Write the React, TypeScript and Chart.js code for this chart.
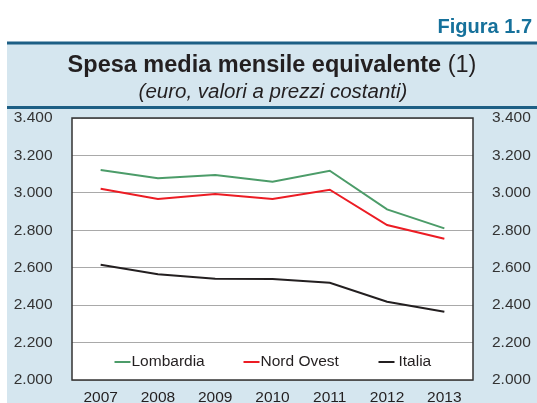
import React, { useEffect, useRef } from "react";
import { Chart, registerables } from "chart.js";

Chart.register(...registerables);

const years = ["2007", "2008", "2009", "2010", "2011", "2012", "2013"];
const lombardia = [3122, 3078, 3095, 3060, 3118, 2912, 2810];
const nordOvest = [3022, 2967, 2994, 2967, 3017, 2828, 2755];
const italia = [2616, 2565, 2541, 2540, 2520, 2418, 2365];
const seriesNames = ["Lombardia", "Nord Ovest", "Italia"];
const seriesColors = ["#4c9c69", "#ec1c24", "#231f20"];
const yMin = 2000;
const yMax = 3400;
const yStep = 200;

const FONT = "'Liberation Sans', Arial, sans-serif";

function fmt(v: number): string {
  const th = Math.floor(v / 1000);
  const rest = String(Math.round(v % 1000)).padStart(3, "0");
  return th + "." + rest;
}

const decorPlugin = {
  id: "decor",
  beforeDraw(chart: any) {
    const ctx = chart.ctx;
    const W = chart.width;
    const H = chart.height;
    const ca = chart.chartArea;
    ctx.save();
    ctx.fillStyle = "#ffffff";
    ctx.fillRect(0, 0, W, H);
    ctx.fillStyle = "#d5e6ef";
    ctx.fillRect(7, 44, W - 7, H - 44);
    ctx.fillStyle = "#1d5f85";
    ctx.fillRect(7, 41.5, W - 7, 3);
    ctx.fillRect(7, 106, W - 7, 3);
    // Figura label
    ctx.fillStyle = "#16719b";
    ctx.font = "bold 20px " + FONT;
    ctx.textAlign = "right";
    ctx.textBaseline = "alphabetic";
    ctx.fillText("Figura 1.7", 532, 33);
    // Title
    const boldPart = "Spesa media mensile equivalente ";
    const normPart = "(1)";
    ctx.font = "bold 23.5px " + FONT;
    const bw = ctx.measureText(boldPart).width;
    ctx.font = "23.5px " + FONT;
    const nw = ctx.measureText(normPart).width;
    const cx = 272;
    const x0 = cx - (bw + nw) / 2;
    ctx.textAlign = "left";
    ctx.fillStyle = "#231f20";
    ctx.font = "bold 23.5px " + FONT;
    ctx.fillText(boldPart, x0, 71.5);
    ctx.font = "23.5px " + FONT;
    ctx.fillText(normPart, x0 + bw, 71.5);
    ctx.font = "italic 20.5px " + FONT;
    ctx.textAlign = "center";
    ctx.fillText("(euro, valori a prezzi costanti)", 273, 98);
    // plot background
    ctx.fillStyle = "#ffffff";
    ctx.fillRect(ca.left, ca.top, ca.right - ca.left, ca.bottom - ca.top);
    ctx.restore();
  },
  afterDraw(chart: any) {
    const ctx = chart.ctx;
    const ca = chart.chartArea;
    ctx.save();
    ctx.strokeStyle = "#333333";
    ctx.lineWidth = 1.5;
    ctx.strokeRect(ca.left, ca.top, ca.right - ca.left, ca.bottom - ca.top);
    // legend inside plot
    const offsets = [42.5, 171.5, 306.5];
    const gaps = [1, 1, 4];
    const ly = ca.bottom - 18;
    ctx.font = "15.5px " + FONT;
    ctx.textBaseline = "middle";
    ctx.textAlign = "left";
    chart.data.datasets.forEach((ds: any, i: number) => {
      const x = ca.left + offsets[i];
      ctx.strokeStyle = ds.borderColor;
      ctx.lineWidth = 2;
      ctx.beginPath();
      ctx.moveTo(x, ly);
      ctx.lineTo(x + 16, ly);
      ctx.stroke();
      ctx.fillStyle = "#231f20";
      ctx.fillText(ds.label, x + 16 + gaps[i], ly);
    });
    ctx.restore();
  },
};

export default function App() {
  const ref = useRef<HTMLCanvasElement | null>(null);
  useEffect(() => {
    document.body.style.margin = "0";
    const canvas = ref.current!;
    const values = [lombardia, nordOvest, italia];
    const tickFont = { family: FONT, size: 15.5 };
    const chart = new Chart(canvas, {
      type: "line",
      data: {
        labels: years,
        datasets: values.map((v, i) => ({
          label: seriesNames[i],
          data: v,
          borderColor: seriesColors[i],
          backgroundColor: seriesColors[i],
          borderWidth: 2,
          pointRadius: 0,
          tension: 0,
          yAxisID: "y",
        })),
      },
      options: {
        animation: false,
        responsive: false,
        devicePixelRatio: 1,
        layout: { padding: { top: 118, left: 0, right: 0, bottom: 0 } },
        plugins: {
          legend: { display: false },
          title: { display: false },
          tooltip: { enabled: false },
        },
        scales: {
          x: {
            offset: true,
            grid: { display: false, drawTicks: false },
            border: { display: false },
            ticks: { color: "#231f20", font: tickFont, padding: 8, maxRotation: 0, autoSkip: false },
            afterFit(scale: any) {
              scale.height = 23;
              scale.paddingLeft = 0;
              scale.paddingRight = 0;
            },
          },
          y: {
            position: "left",
            min: yMin,
            max: yMax,
            grid: { color: "#a9a9a9", lineWidth: 1, drawTicks: false },
            border: { display: false },
            ticks: { stepSize: yStep, color: "#333333", font: tickFont, padding: 19.5, callback: (v: any) => fmt(Number(v)) },
            afterFit(scale: any) {
              scale.width = 72;
              scale.paddingTop = 10;
              scale.paddingBottom = 10;
            },
          },
          y2: {
            position: "right",
            display: true,
            min: yMin,
            max: yMax,
            grid: { display: false, drawTicks: false },
            border: { display: false },
            ticks: { stepSize: yStep, color: "#333333", font: tickFont, padding: 19, callback: (v: any) => fmt(Number(v)) },
            afterFit(scale: any) {
              scale.width = 64;
              scale.paddingTop = 10;
              scale.paddingBottom = 10;
            },
          },
        },
      },
      plugins: [decorPlugin],
    });
    return () => chart.destroy();
  }, []);
  return (
    <div style={{ width: 537, height: 403 }}>
      <canvas ref={ref} width={537} height={403} />
    </div>
  );
}
